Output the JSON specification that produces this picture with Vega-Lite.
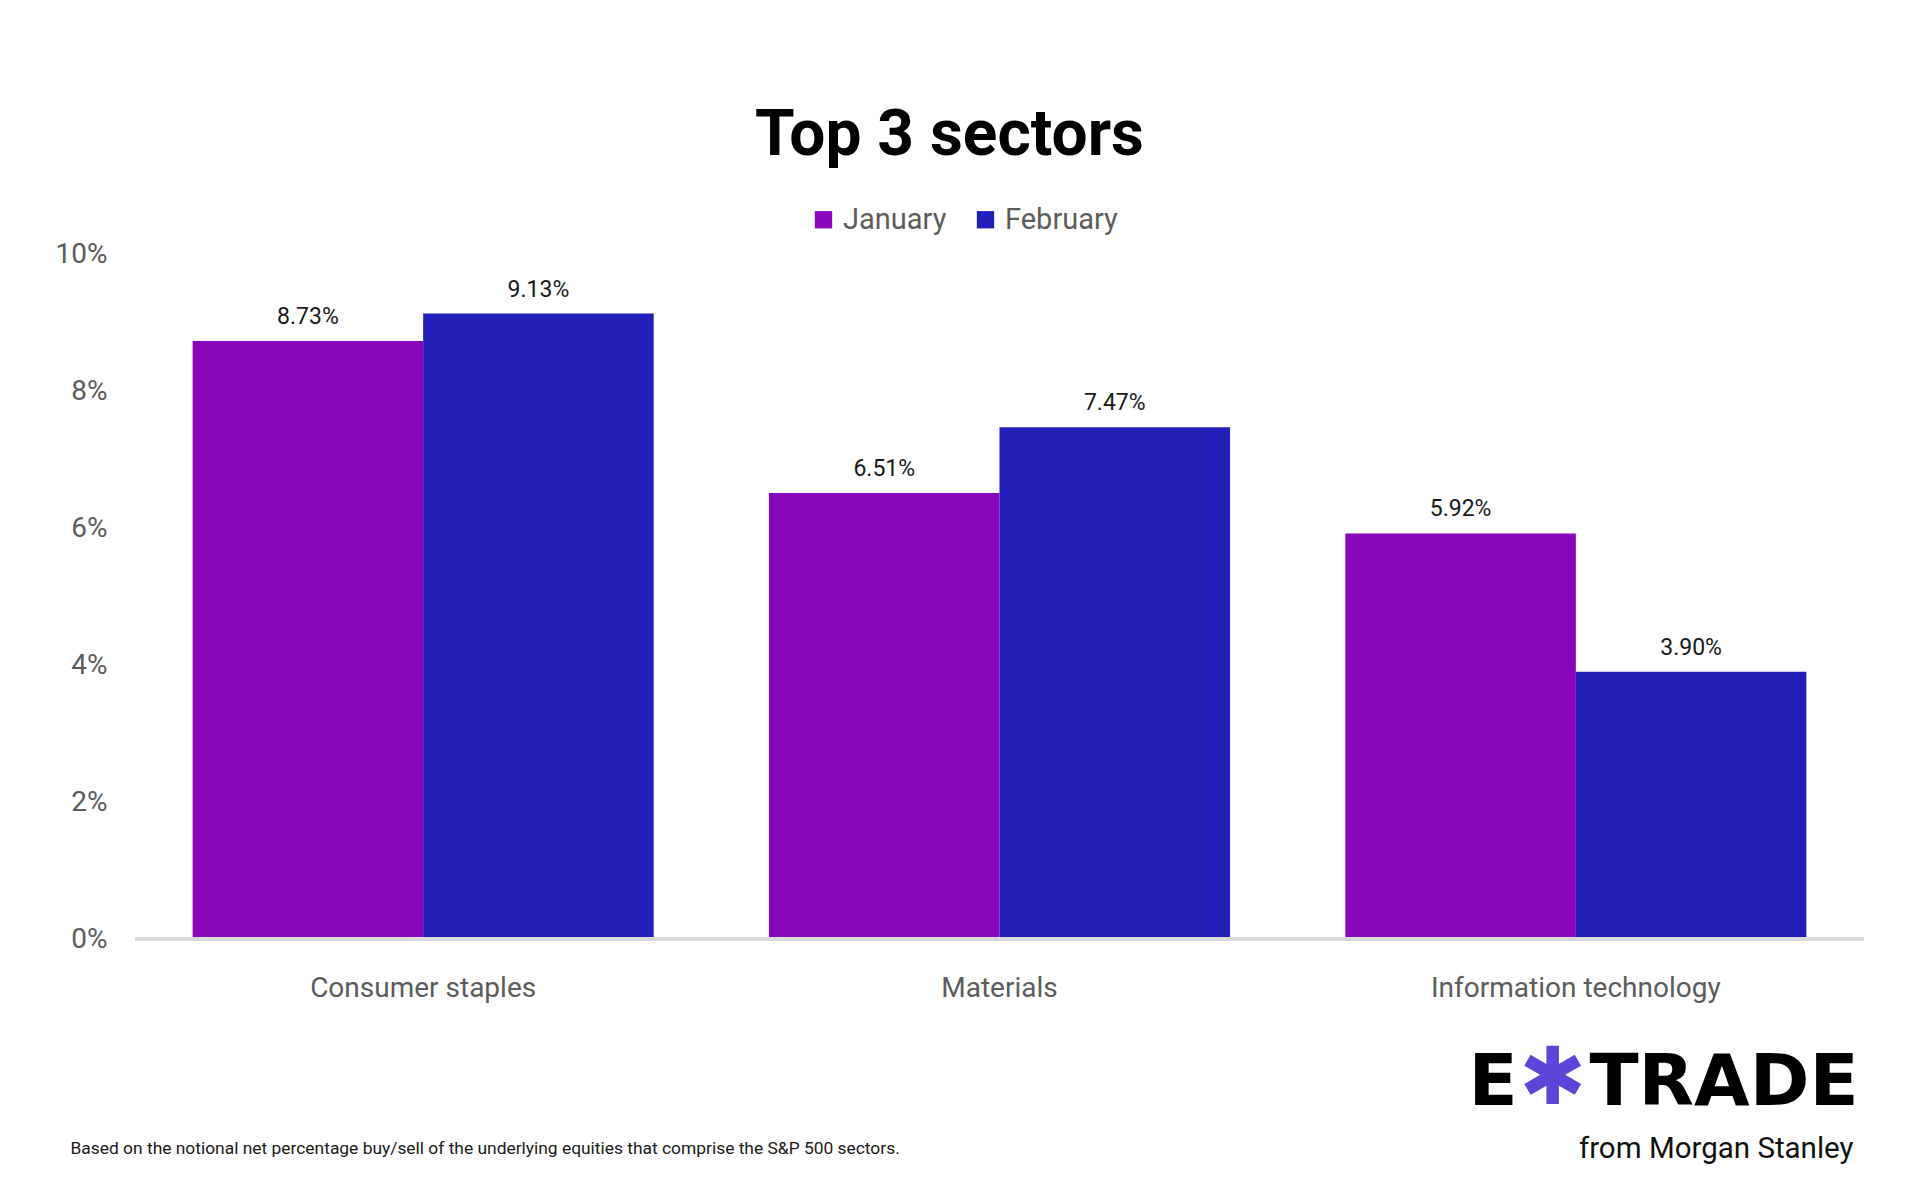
{
  "$schema": "https://vega.github.io/schema/vega-lite/v6.json",
  "autosize": {"type": "none"},
  "width": 1729,
  "height": 685,
  "padding": {"left": 135, "top": 254, "right": 56, "bottom": 261},
  "background": "#ffffff",
  "config": {
    "view": {"stroke": null},
    "font": "Roboto",
    "axis": {"grid": false, "ticks": false, "domain": false}
  },
  "title": {
    "text": "Top 3 sectors",
    "font": "Roboto",
    "fontSize": 64,
    "fontWeight": "bold",
    "color": "#000000",
    "anchor": "middle",
    "frame": "group",
    "dx": -50,
    "offset": 37
  },
  "data": {
    "values": [
      {"sector": "Consumer staples", "month": "January", "value": 0.0873},
      {"sector": "Consumer staples", "month": "February", "value": 0.0913},
      {"sector": "Materials", "month": "January", "value": 0.0651},
      {"sector": "Materials", "month": "February", "value": 0.0747},
      {"sector": "Information technology", "month": "January", "value": 0.0592},
      {"sector": "Information technology", "month": "February", "value": 0.039}
    ]
  },
  "resolve": {"scale": {"x": "independent", "y": "independent"}},
  "layer": [
    {
      "mark": {"type": "bar"},
      "encoding": {
        "x": {
          "field": "sector",
          "type": "nominal",
          "sort": ["Consumer staples", "Materials", "Information technology"],
          "scale": {"paddingInner": 0.2, "paddingOuter": 0.1},
          "axis": {
            "orient": "bottom",
            "labelAngle": 0,
            "labelLimit": 0,
            "labelFont": "Roboto",
            "labelFontSize": 28,
            "labelColor": "#5c5c5c",
            "labelPadding": 35,
            "title": "Based on the notional net percentage buy/sell of the underlying equities that comprise the S&P 500 sectors.",
            "titleFont": "Roboto",
            "titleFontSize": 17.4,
            "titleFontWeight": "normal",
            "titleColor": "#1a1a1a",
            "titleAlign": "left",
            "titleBaseline": "middle",
            "titleLimit": 0,
            "titleX": -65,
            "titleY": 209
          }
        },
        "xOffset": {
          "field": "month",
          "type": "nominal",
          "sort": ["January", "February"],
          "scale": {"paddingInner": 0}
        },
        "y": {
          "field": "value",
          "type": "quantitative",
          "scale": {"domain": [0, 0.1], "nice": false},
          "axis": {
            "orient": "left",
            "values": [0, 0.02, 0.04, 0.06, 0.08, 0.1],
            "format": ".0%",
            "labelFont": "Roboto",
            "labelFontSize": 28,
            "labelColor": "#5c5c5c",
            "labelPadding": 28,
            "title": "E",
            "titleFont": "DejaVu Sans",
            "titleFontSize": 72,
            "titleFontWeight": "bold",
            "titleColor": "#000000",
            "titleAngle": 0,
            "titleAlign": "left",
            "titleBaseline": "alphabetic",
            "titleX": 1333,
            "titleY": 850
          }
        },
        "color": {
          "field": "month",
          "type": "nominal",
          "sort": ["January", "February"],
          "scale": {"domain": ["January", "February"], "range": ["#8A06BA", "#211FB8"]},
          "legend": {
            "title": null,
            "orient": "none",
            "direction": "horizontal",
            "legendX": 674,
            "legendY": -49,
            "symbolType": "square",
            "symbolSize": 300,
            "symbolStrokeWidth": 0,
            "labelFont": "Roboto",
            "labelFontSize": 29,
            "labelColor": "#5c5c5c",
            "labelOffset": 5,
            "columnPadding": 24
          }
        }
      }
    },
    {
      "mark": {"type": "text", "baseline": "alphabetic", "dy": -17, "font": "Roboto", "fontSize": 23, "color": "#1a1a1a"},
      "encoding": {
        "x": {
          "field": "sector",
          "type": "nominal",
          "sort": ["Consumer staples", "Materials", "Information technology"],
          "scale": {"paddingInner": 0.2, "paddingOuter": 0.1},
          "axis": {
            "orient": "top",
            "labels": false,
            "title": "✱",
            "titleFont": "DejaVu Sans",
            "titleFontSize": 80,
            "titleFontWeight": "bold",
            "titleColor": "#5E45D8",
            "titleAlign": "center",
            "titleBaseline": "middle",
            "titleX": 1417,
            "titleY": 825
          }
        },
        "xOffset": {
          "field": "month",
          "type": "nominal",
          "sort": ["January", "February"],
          "scale": {"paddingInner": 0}
        },
        "y": {
          "field": "value",
          "type": "quantitative",
          "scale": {"domain": [0, 0.1], "nice": false},
          "axis": {
            "orient": "right",
            "labels": false,
            "title": "TRADE",
            "titleFont": "DejaVu Sans",
            "titleFontSize": 72,
            "titleFontWeight": "bold",
            "titleColor": "#000000",
            "titleAngle": 0,
            "titleAlign": "left",
            "titleBaseline": "alphabetic",
            "titleX": -275,
            "titleY": 850
          }
        },
        "text": {"field": "value", "type": "quantitative", "format": ".2%"}
      }
    },
    {
      "mark": {"type": "rule", "color": "#d9d9d9", "strokeWidth": 4},
      "encoding": {
        "y": {
          "datum": 0,
          "type": "quantitative",
          "scale": {"domain": [0, 0.1], "nice": false},
          "axis": {
            "orient": "left",
            "labels": false,
            "title": "from Morgan Stanley",
            "titleFont": "Roboto",
            "titleFontSize": 29.5,
            "titleFontWeight": "normal",
            "titleColor": "#111111",
            "titleAngle": 0,
            "titleAlign": "right",
            "titleBaseline": "alphabetic",
            "titleX": 1718,
            "titleY": 903
          }
        }
      }
    }
  ]
}
